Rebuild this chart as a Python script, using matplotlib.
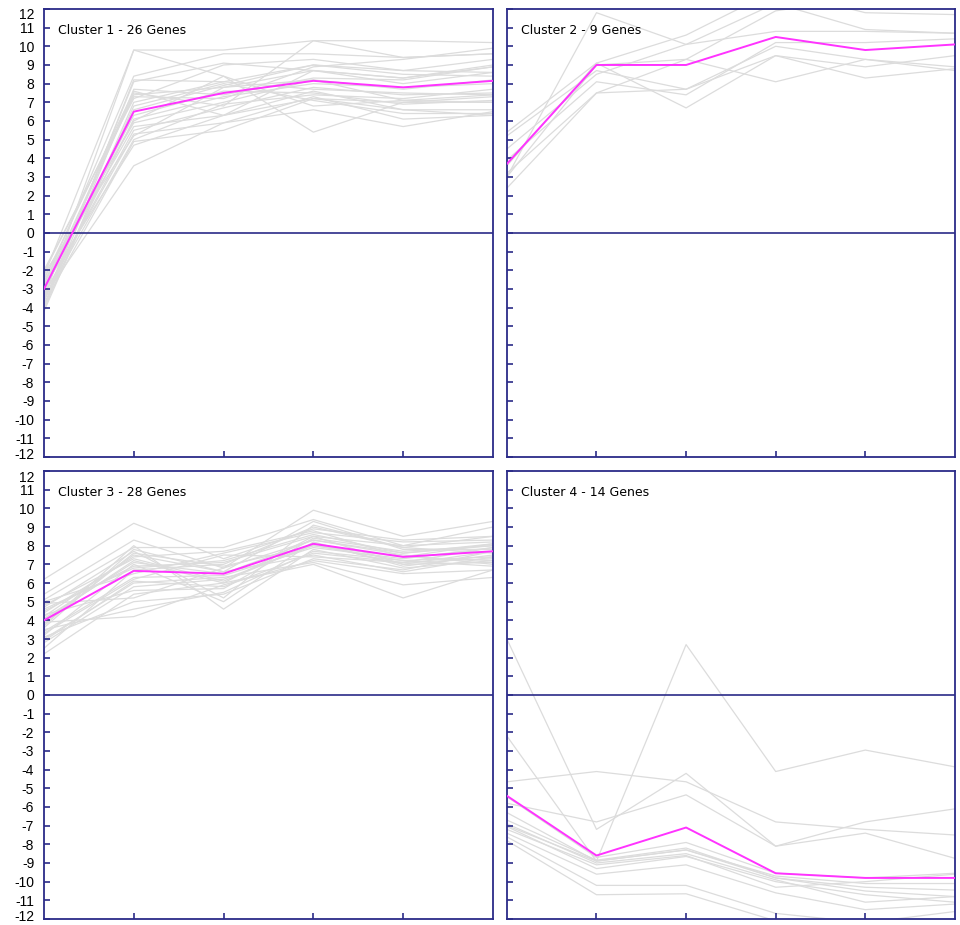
import numpy as np
import matplotlib
matplotlib.use("Agg")
from matplotlib import pyplot as plt
from matplotlib.transforms import ScaledTranslation

plt.rcParams['font.family'] = ['Liberation Sans', 'DejaVu Sans']

# six conditions per gene profile
conditions = [0, 1, 2, 3, 4, 5]

titles = ["Cluster 1 - 26 Genes", "Cluster 2 - 9 Genes",
          "Cluster 3 - 28 Genes", "Cluster 4 - 14 Genes"]

cluster1_genes = [
    [-2.3, 9.8, 9.8, 10.3, 10.3, 10.2],
    [-3.5, 9.8, 8.4, 6.8, 7.1, 7.4],
    [-2.8, 8.4, 9.6, 9.6, 9.4, 9.6],
    [-3.9, 8.2, 8.1, 9.0, 8.7, 9.3],
    [-2.5, 7.6, 6.3, 8.7, 8.3, 8.9],
    [-3.2, 7.4, 7.8, 8.2, 7.1, 7.0],
    [-2.0, 7.2, 9.0, 9.3, 8.7, 8.6],
    [-4.1, 7.0, 8.1, 7.7, 7.5, 7.4],
    [-3.0, 7.5, 6.8, 10.3, 9.4, 9.6],
    [-3.6, 6.1, 7.3, 8.0, 7.8, 8.0],
    [-2.7, 5.7, 6.3, 7.2, 6.6, 6.6],
    [-3.3, 5.3, 5.9, 7.3, 6.1, 6.3],
    [-2.2, 5.2, 7.8, 8.7, 8.0, 8.6],
    [-3.8, 4.9, 5.5, 7.2, 7.0, 7.0],
    [-2.9, 4.7, 6.3, 7.6, 6.6, 6.3],
    [-3.4, 3.6, 5.9, 6.6, 5.7, 6.5],
    [-2.6, 6.0, 8.4, 5.4, 7.0, 7.3],
    [-4.0, 7.7, 7.4, 8.3, 8.2, 8.9],
    [-3.1, 6.6, 7.9, 9.0, 8.5, 8.4],
    [-2.4, 5.9, 7.0, 8.2, 7.7, 8.2],
    [-3.7, 8.1, 9.1, 8.7, 8.3, 9.0],
    [-2.9, 6.3, 7.6, 7.5, 6.9, 7.1],
    [-3.3, 5.5, 6.7, 7.8, 7.4, 7.5],
    [-2.1, 7.3, 7.2, 8.9, 9.3, 9.9],
    [-3.5, 5.0, 6.9, 7.4, 7.2, 7.7],
    [-4.2, 6.8, 8.0, 7.1, 6.4, 6.4],
]
cluster1_mean = [-3.0, 6.5, 7.5, 8.15, 7.8, 8.15]

cluster2_genes = [
    [3.0, 11.8, 10.1, 12.3, 10.9, 10.7],
    [5.4, 9.1, 10.6, 13.0, 11.8, 11.7],
    [5.2, 8.7, 7.7, 10.0, 9.3, 8.9],
    [3.9, 8.1, 7.4, 10.2, 10.2, 10.4],
    [3.2, 7.5, 7.7, 9.5, 8.9, 9.5],
    [2.4, 7.5, 9.3, 8.1, 9.3, 8.7],
    [3.6, 9.1, 6.7, 9.5, 8.3, 8.8],
    [4.5, 8.5, 10.1, 10.8, 10.8, 10.7],
    [3.0, 9.0, 9.3, 11.9, 12.6, 12.2],
]
cluster2_mean = [3.7, 9.0, 9.0, 10.5, 9.8, 10.1]

cluster3_genes = [
    [6.2, 9.2, 7.3, 8.9, 8.3, 8.5],
    [5.4, 8.3, 6.8, 9.9, 8.5, 9.3],
    [5.1, 7.9, 7.9, 9.4, 8.0, 9.0],
    [4.7, 7.7, 5.2, 9.1, 7.9, 8.5],
    [4.4, 7.4, 7.7, 8.8, 7.4, 8.1],
    [4.0, 7.2, 6.0, 8.5, 7.0, 7.7],
    [3.7, 8.0, 4.6, 7.8, 6.8, 7.2],
    [3.3, 6.2, 7.5, 7.4, 7.1, 7.9],
    [3.0, 6.0, 6.3, 7.1, 5.9, 6.3],
    [2.2, 5.4, 6.0, 7.0, 5.2, 6.7],
    [4.9, 5.2, 6.8, 8.3, 7.5, 7.0],
    [3.5, 4.6, 5.5, 7.7, 7.2, 7.4],
    [3.9, 4.2, 5.9, 7.2, 6.5, 6.7],
    [4.6, 6.8, 7.2, 8.6, 7.6, 8.0],
    [3.2, 7.0, 5.0, 8.2, 6.9, 7.5],
    [4.2, 7.5, 6.6, 9.3, 7.8, 7.8],
    [2.8, 5.8, 6.2, 8.0, 7.4, 7.2],
    [5.0, 6.5, 7.6, 8.7, 8.2, 8.3],
    [3.6, 7.8, 6.6, 7.5, 6.6, 7.4],
    [4.3, 5.6, 5.7, 8.4, 7.7, 8.0],
    [2.5, 6.7, 7.0, 9.0, 7.9, 7.6],
    [3.4, 6.3, 6.4, 7.9, 7.3, 7.9],
    [4.8, 7.3, 6.1, 8.1, 7.0, 7.1],
    [3.1, 5.0, 5.4, 7.3, 6.7, 7.7],
    [4.5, 6.9, 7.1, 8.5, 8.0, 8.2],
    [3.8, 7.6, 6.9, 8.0, 7.2, 6.9],
    [2.9, 6.1, 5.8, 7.6, 7.1, 7.3],
    [4.1, 7.1, 6.5, 8.3, 7.6, 8.1],
]
cluster3_mean = [4.0, 6.65, 6.5, 8.1, 7.4, 7.7]

cluster4_genes = [
    [3.0, -7.2, -4.2, -8.1, -6.8, -6.1],
    [-7.0, -8.9, 2.7, -4.1, -2.95, -3.85],
    [-4.65, -4.1, -4.65, -6.8, -7.2, -7.5],
    [-2.2, -8.9, -8.3, -9.8, -10.5, -10.8],
    [-5.8, -6.8, -5.35, -8.1, -7.4, -8.75],
    [-5.45, -8.7, -7.9, -9.55, -9.8, -9.55],
    [-6.7, -8.85, -8.2, -9.8, -10.3, -10.45],
    [-7.05, -9.3, -8.65, -10.0, -10.7, -11.1],
    [-7.4, -9.6, -9.1, -10.6, -11.5, -11.2],
    [-7.6, -10.2, -10.2, -11.7, -12.2, -11.6],
    [-7.8, -10.7, -10.65, -12.1, -12.8, -12.5],
    [-6.3, -8.9, -8.3, -9.7, -10.1, -10.1],
    [-6.9, -9.0, -8.5, -9.9, -11.1, -10.8],
    [-7.2, -9.1, -8.6, -10.3, -10.0, -9.6],
]
cluster4_mean = [-5.4, -8.6, -7.1, -9.55, -9.8, -9.8]

all_genes = [cluster1_genes, cluster2_genes, cluster3_genes, cluster4_genes]
all_means = [cluster1_mean, cluster2_mean, cluster3_mean, cluster4_mean]

frame_color = "#2b2b88"
gene_color = "#dcdcdc"
mean_color = "#ff33ff"

fig = plt.figure(figsize=(9.6, 9.25), dpi=100)

# panel rectangles in figure fraction: left/right column, top/bottom row
col_left = [0.0458, 0.528]
col_width = [0.4677, 0.4667]
row_bottom = [0.506, 0.0065]
row_height = 0.4843

for i in range(4):
    r, c = divmod(i, 2)
    ax = fig.add_axes([col_left[c], row_bottom[r], col_width[c], row_height])

    for gene in all_genes[i]:
        ax.plot(conditions, gene, color=gene_color, linewidth=0.9, zorder=1)
    ax.plot(conditions, all_means[i], color=mean_color, linewidth=1.4, zorder=3)
    ax.axhline(0, color=frame_color, linewidth=1.2, zorder=2)

    ax.set_xlim(0, 5)
    ax.set_ylim(-12, 12)
    ax.set_xticks([1, 2, 3, 4])
    ax.set_xticklabels([])
    ax.set_yticks(range(-12, 13))
    if c == 0:
        ax.set_yticklabels([str(v) for v in range(-12, 13)])
    else:
        ax.set_yticklabels([])

    ax.tick_params(axis='both', direction='in', length=4.5, width=1.2,
                   color=frame_color, labelsize=10, pad=7)
    for spine in ax.spines.values():
        spine.set_color(frame_color)
        spine.set_linewidth(1.3)

    if c == 0:
        # nudge the end labels a little toward the middle of the panel
        labels = ax.get_yticklabels()
        labels[0].set_transform(labels[0].get_transform()
                                + ScaledTranslation(0, 3 / 100, fig.dpi_scale_trans))
        labels[-1].set_transform(labels[-1].get_transform()
                                 + ScaledTranslation(0, -5 / 100, fig.dpi_scale_trans))

    ax.text(0.031, 0.953, titles[i], transform=ax.transAxes,
            fontsize=9, va='center', ha='left', color='black',
            family='DejaVu Sans')

fig.savefig("out.png", dpi=100)
